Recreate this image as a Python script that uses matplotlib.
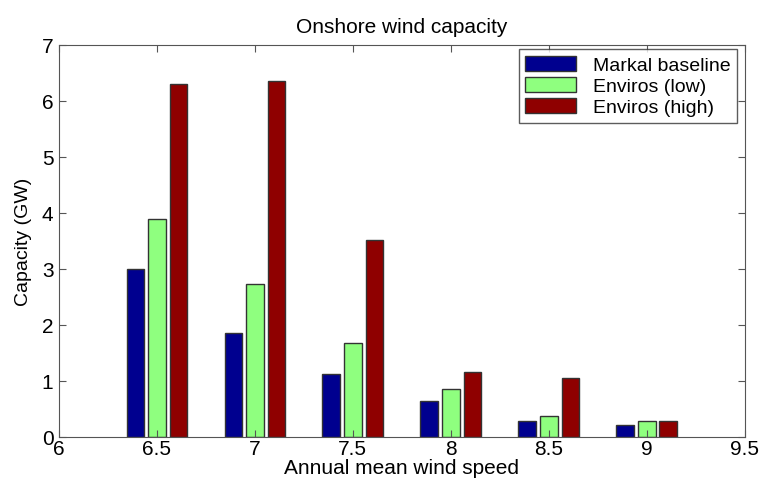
import numpy as np
import matplotlib
matplotlib.use('Agg')
import matplotlib.pyplot as plt

plt.rcParams['font.family'] = ['Liberation Sans', 'DejaVu Sans']

wind_speed = [6.5, 7, 7.5, 8, 8.5, 9]
markal_baseline = [3.0, 1.86, 1.12, 0.65, 0.29, 0.21]
enviros_low = [3.89, 2.74, 1.67, 0.85, 0.38, 0.28]
enviros_high = [6.31, 6.35, 3.52, 1.16, 1.05, 0.28]

series = [
    ('Markal baseline', markal_baseline, '#00008F'),
    ('Enviros (low)', enviros_low, '#8FFF7F'),
    ('Enviros (high)', enviros_high, '#8F0000'),
]

fig = plt.figure(figsize=(7.63, 4.81), dpi=100)
ax = fig.add_axes([0.0773, 0.0894, 0.8987, 0.8150])

x = np.array(wind_speed)
offsets = [-0.11, 0.0, 0.11]
for (name, vals, col), off in zip(series, offsets):
    ax.bar(x + off, vals, width=0.09, color=col, edgecolor='#333333',
           linewidth=1.0, label=name)

ax.set_xlim(6, 9.5)
ax.set_ylim(0, 7)
ax.set_xticks([6, 6.5, 7, 7.5, 8, 8.5, 9, 9.5])
ax.set_xticklabels(['6', '6.5', '7', '7.5', '8', '8.5', '9', '9.5'])
ax.set_yticks(range(0, 8))
ax.tick_params(direction='in', top=True, right=True, length=5,
               labelsize=15, color='#555555')
ax.tick_params(axis='x', pad=1.5)
ax.tick_params(axis='y', pad=4)
for sp in ax.spines.values():
    sp.set_color('#555555')

ax.set_title('Onshore wind capacity', fontsize=15, pad=9)
ax.set_xlabel('Annual mean wind speed', fontsize=15, labelpad=0)
ax.set_ylabel('Capacity (GW)', fontsize=14, labelpad=7)

leg = ax.legend(loc='upper right', bbox_to_anchor=(737 / 763, 1 - 50 / 481),
                bbox_transform=fig.transFigure, borderaxespad=0,
                fontsize=14, frameon=True, fancybox=False,
                edgecolor='#333333', borderpad=0.35, labelspacing=0.14,
                handlelength=2.6, handleheight=0.8, handletextpad=0.85)
leg.get_frame().set_linewidth(1.0)

fig.savefig('out.png', dpi=100)
